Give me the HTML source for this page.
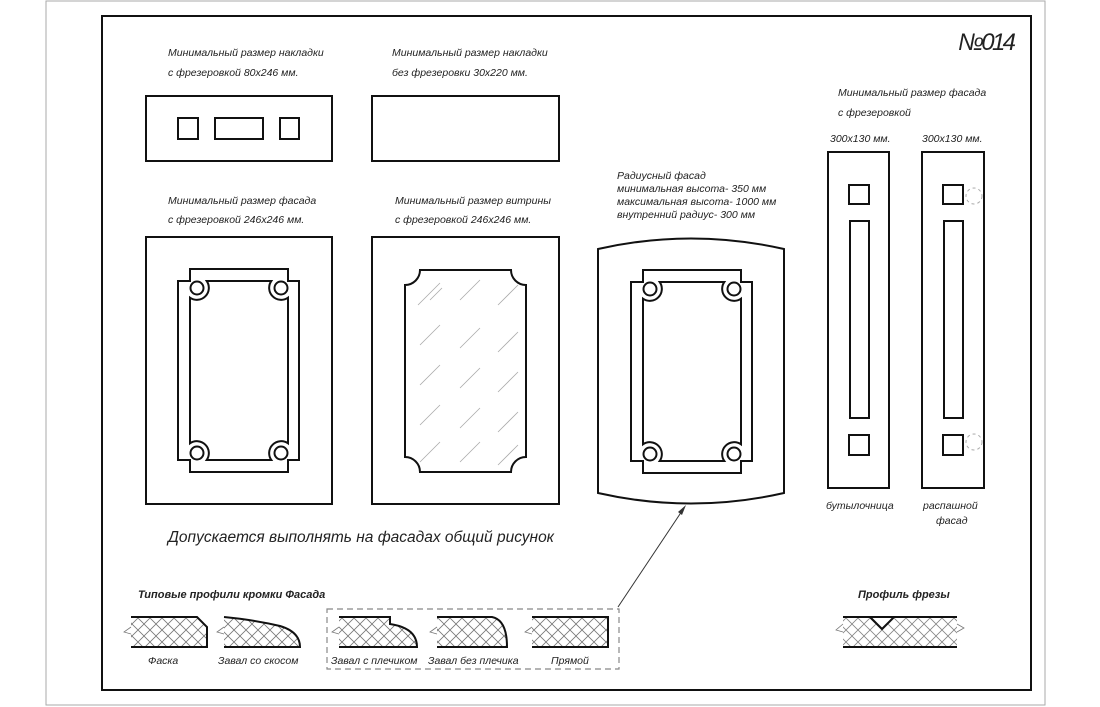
<!DOCTYPE html>
<html><head><meta charset="utf-8"><style>
html,body{margin:0;padding:0;background:#fff}
svg{display:block}
text{font-family:"Liberation Sans","DejaVu Sans",sans-serif;font-style:italic;fill:#222}
</style></head><body>
<svg width="1100" height="707" viewBox="0 0 1100 707" xmlns="http://www.w3.org/2000/svg">
<defs>
<pattern id="hx" width="12" height="12" patternUnits="userSpaceOnUse">
<path d="M0,0L12,12M12,0L0,12" stroke="#777" stroke-width="0.8"/>
</pattern>
<g id="frm" fill="none" stroke="#111" stroke-width="2">
<path d="M190,281 L190,269 L288,269 L288,281 L299,281 L299,460 L288,460 L288,472 L190,472 L190,460 L178,460 L178,281 Z"/>
<path d="M206.7,281 L271.3,281 A12,12 0 0 0 288,297.7 L288,443.3 A12,12 0 0 0 271.3,460 L206.7,460 A12,12 0 0 0 190,443.3 L190,297.7 A12,12 0 0 0 206.7,281 Z"/>
<circle cx="197" cy="288" r="6.5"/><circle cx="281" cy="288" r="6.5"/>
<circle cx="197" cy="453" r="6.5"/><circle cx="281" cy="453" r="6.5"/>
</g>
</defs>
<rect x="46" y="1" width="999" height="704" fill="none" stroke="#aaa" stroke-width="1"/>
<rect x="102" y="16" width="929" height="674" fill="none" stroke="#111" stroke-width="2"/>
<text x="958" y="50" font-size="24" textLength="58">№014</text>

<g font-size="10.5">
<text x="168" y="56">Минимальный размер накладки</text>
<text x="168" y="76">с фрезеровкой 80х246 мм.</text>
<text x="392" y="56">Минимальный размер накладки</text>
<text x="392" y="76">без фрезеровки 30х220 мм.</text>
<text x="168" y="204">Минимальный размер фасада</text>
<text x="168" y="223">с фрезеровкой 246х246 мм.</text>
<text x="395" y="204">Минимальный размер витрины</text>
<text x="395" y="223">с фрезеровкой 246х246 мм.</text>
<text x="617" y="179">Радиусный фасад</text>
<text x="617" y="192">минимальная высота- 350 мм</text>
<text x="617" y="205">максимальная высота- 1000 мм</text>
<text x="617" y="218">внутренний радиус- 300 мм</text>
<text x="838" y="96">Минимальный размер фасада</text>
<text x="838" y="116">с фрезеровкой</text>
<text x="830" y="142">300х130 мм.</text>
<text x="922" y="142">300х130 мм.</text>
<text x="826" y="509">бутылочница</text>
<text x="923" y="509">распашной</text>
<text x="936" y="524">фасад</text>
</g>

<g fill="none" stroke="#111" stroke-width="2">
<rect x="146" y="96" width="186" height="65"/>
<rect x="178" y="118" width="20" height="21"/>
<rect x="215" y="118" width="48" height="21"/>
<rect x="280" y="118" width="19" height="21"/>
<rect x="372" y="96" width="187" height="65"/>

<rect x="146" y="237" width="186" height="267"/>
<rect x="372" y="237" width="187" height="267"/>

<path d="M598,249 Q691,228 784,249 L784,493 Q691,514 598,493 Z"/>

<rect x="828" y="152" width="61" height="336"/>
<rect x="849" y="185" width="20" height="19"/>
<rect x="850" y="221" width="19" height="197"/>
<rect x="849" y="435" width="20" height="20"/>
<rect x="922" y="152" width="62" height="336"/>
<rect x="943" y="185" width="20" height="19"/>
<rect x="944" y="221" width="19" height="197"/>
<rect x="943" y="435" width="20" height="20"/>

<path d="M420,270 L511,270 A15,15 0 0 0 526,285 L526,457 A15,15 0 0 0 511,472 L420,472 A15,15 0 0 0 405,457 L405,285 A15,15 0 0 0 420,270 Z"/>
</g>
<g fill="none" stroke="#aaa" stroke-width="1" stroke-dasharray="3,3">
<circle cx="974" cy="196" r="8"/>
<circle cx="974" cy="442" r="8"/>
</g>
<g stroke="#aaa" stroke-width="0.8">
<path d="M418,305l22,-22M430,300l12,-12M460,300l20,-20M498,305l20,-20M420,345l20,-20M460,348l20,-20M498,352l20,-20M420,385l20,-20M460,388l20,-20M498,392l20,-20M420,425l20,-20M460,428l20,-20M498,432l20,-20M420,462l20,-20M460,462l20,-20M498,465l20,-20"/>
</g>

<use href="#frm"/>
<use href="#frm" transform="translate(453,1)"/>

<text x="168" y="542" font-size="15.5">Допускается выполнять на фасадах общий рисунок</text>

<line x1="618" y1="607" x2="684" y2="508" stroke="#333" stroke-width="1"/>
<path d="M686,505 L678,512 L682,515 Z" fill="#333"/>

<text x="138" y="598" font-size="11" style="font-weight:bold">Типовые профили кромки Фасада</text>
<text x="858" y="598" font-size="11" style="font-weight:bold">Профиль фрезы</text>

<rect x="327" y="609" width="292" height="60" fill="none" stroke="#888" stroke-width="1.2" stroke-dasharray="6,4"/>

<g stroke="#111" stroke-width="2" fill="url(#hx)">
<path d="M131,617 L197,617 L207,627 L207,647 L131,647"/>
<path d="M224,617 Q255,620 280,626 Q300,632 300,647 L224,647"/>
<path d="M339,617 L390,617 L390,624 Q417,628 417,647 L339,647"/>
<path d="M437,617 L492,617 Q507,620 507,647 L437,647"/>
<path d="M532,617 L608,617 L608,647 L532,647"/>
<path d="M843,617 L870,617 L882,629 L894,617 L957,617 M957,647 L843,647"/>
</g>
<rect x="843" y="618" width="114" height="28" fill="url(#hx)" opacity="0.9"/>
<path d="M870,617 L882,629 L894,617 Z" fill="#fff" stroke="#111" stroke-width="2"/>
<g stroke="#777" stroke-width="0.8" fill="none">
<path d="M131,627 L124,632 L131,634 M224,627 L217,632 L224,634 M339,627 L332,632 L339,634 M437,627 L430,632 L437,634 M532,627 L525,632 L532,634 M843,624 L836,630 L843,632 M957,624 L964,628 L957,632"/>
</g>
<g font-size="10.5">
<text x="148" y="664">Фаска</text>
<text x="218" y="664">Завал со скосом</text>
<text x="331" y="664">Завал с плечиком</text>
<text x="428" y="664">Завал без плечика</text>
<text x="551" y="664">Прямой</text>
</g>
</svg>
</body></html>
